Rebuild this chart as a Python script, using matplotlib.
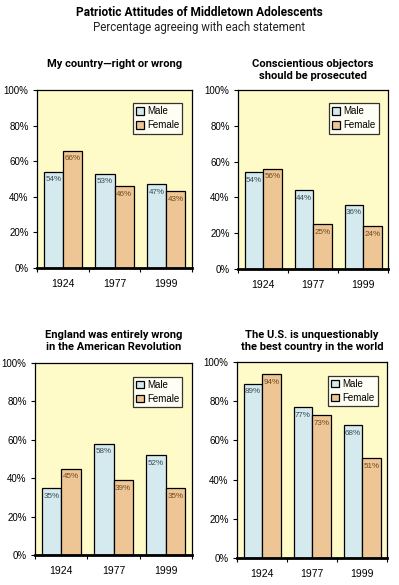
import numpy as np
import matplotlib
matplotlib.use("Agg")
import matplotlib.pyplot as plt

years = ["1924", "1977", "1999"]

titles = [
    "My country\u2014right or wrong",
    "Conscientious objectors\nshould be prosecuted",
    "England was entirely wrong\nin the American Revolution",
    "The U.S. is unquestionably\nthe best country in the world",
]

male = [
    [54, 53, 47],
    [54, 44, 36],
    [35, 58, 52],
    [89, 77, 68],
]
female = [
    [66, 46, 43],
    [56, 25, 24],
    [45, 39, 35],
    [94, 73, 51],
]

bg = "#fffbc9"
c_male = "#d5eaee"
c_female = "#eec594"

W, H = 399, 585
fig = plt.figure(figsize=(W / 100, H / 100), dpi=100)

head_font = ["Roboto", "DejaVu Sans"]
body_font = ["Liberation Sans", "DejaVu Sans"]

fig.text(0.5, 1 - 13 / H, "Patriotic Attitudes of Middletown Adolescents",
         ha="center", va="center", fontsize=8.6, fontweight="bold", family=head_font)
fig.text(0.5, 1 - 27 / H, "Percentage agreeing with each statement",
         ha="center", va="center", fontsize=8.3, family=head_font, color="#222222")

# axes boxes in pixels: left, right, top, bottom
boxes = [(37, 192, 90, 268), (238, 388, 90, 269), (35, 192, 363, 555), (237, 387, 362, 558)]
title_y = [64, 70, 341, 341]

for k in range(4):
    l, r, t, b = boxes[k]
    ax = fig.add_axes([l / W, 1 - b / H, (r - l) / W, (b - t) / H])
    ax.set_facecolor(bg)
    x = np.arange(3) + 0.5
    w = 0.37
    ax.bar(x - w / 2, male[k], w, color=c_male, edgecolor="black", linewidth=0.9, label="Male")
    ax.bar(x + w / 2, female[k], w, color=c_female, edgecolor="black", linewidth=0.9, label="Female")
    for i in range(3):
        ax.text(x[i] - w / 2, male[k][i] - 2.5, f"{male[k][i]}%", ha="center", va="top",
                fontsize=5.8, color="#3b4a55", family=body_font)
        ax.text(x[i] + w / 2, female[k][i] - 2.5, f"{female[k][i]}%", ha="center", va="top",
                fontsize=5.8, color="#6e4a22", family=body_font)
    ax.set_xlim(0, 3)
    ax.set_ylim(0, 100)
    ax.set_yticks([0, 20, 40, 60, 80, 100])
    ax.set_yticklabels([f"{v}%" for v in [0, 20, 40, 60, 80, 100]], family=body_font)
    ax.set_xticks([0, 1, 2, 3])
    ax.set_xticklabels([])
    ax.set_xticks(x, minor=True)
    ax.set_xticklabels(years, minor=True, family=body_font)
    ax.tick_params(axis="x", which="minor", length=0, pad=8, labelsize=7.5)
    ax.tick_params(axis="x", which="major", length=3, width=0.8, direction="out")
    ax.tick_params(axis="y", length=3, width=0.8, labelsize=7, pad=3)
    for s in ["left", "right", "top"]:
        ax.spines[s].set_linewidth(0.9)
    ax.spines["bottom"].set_linewidth(2)
    leg = ax.legend(loc="upper right", bbox_to_anchor=(0.97, 0.955),
                    frameon=True, fancybox=False, edgecolor="black", handlelength=0.8,
                    handleheight=0.8, handletextpad=0.3, borderpad=0.35, labelspacing=0.4,
                    prop={"family": body_font, "size": 7})
    leg.get_frame().set_linewidth(0.9)
    leg.get_frame().set_facecolor("white")
    cx = (l + r) / 2 / W
    fig.text(cx, 1 - title_y[k] / H, titles[k], ha="center", va="center",
             fontsize=8, fontweight="bold", family=head_font, linespacing=1.15)

fig.savefig("out.png", dpi=100)
